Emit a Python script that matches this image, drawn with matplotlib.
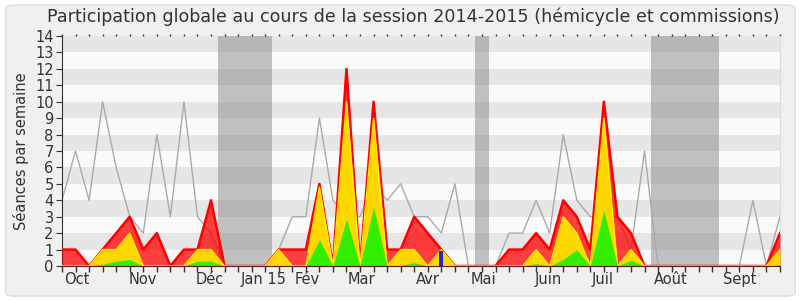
import numpy as np
import matplotlib
matplotlib.use('Agg')
import matplotlib.pyplot as plt
from matplotlib.patches import FancyBboxPatch
import matplotlib.transforms as mtransforms

# weekly values, session 2014-2015 (54 weeks, Oct -> Sept)
weeks = np.arange(54)
presences = [1, 1, 0, 1, 2, 3, 1, 2, 0, 1, 1, 4, 0, 0, 0, 0, 1, 1, 1, 5,
             0, 12, 0, 10, 1, 1, 3, 2, 1, 0, 0, 0, 0, 1, 1, 2, 1, 4, 3, 1,
             10, 3, 2, 0, 0, 0, 0, 0, 0, 0, 0, 0, 0, 2]
participations = [0, 0, 0, 1, 1, 2, 0, 0, 0, 0, 1, 1, 0, 0, 0, 0, 1, 0, 0, 4.8,
                  0, 10, 0, 9, 0, 1, 1, 0, 1, 0, 0, 0, 0, 0, 0, 1, 0, 3, 2, 0,
                  9, 0, 1, 0, 0, 0, 0, 0, 0, 0, 0, 0, 0, 1]
interventions = [0, 0, 0, 0.1, 0.3, 0.4, 0, 0, 0, 0, 0.3, 0.3, 0, 0, 0, 0, 0, 0, 0, 1.6,
                 0, 2.85, 0, 3.6, 0, 0.05, 0.2, 0, 0, 0, 0, 0, 0, 0, 0, 0.15, 0, 0.4, 1.0, 0,
                 3.4, 0, 0.35, 0, 0, 0, 0, 0, 0, 0, 0, 0, 0, 0.1]
mediane = [4, 7, 4, 10, 6, 3, 2, 8, 3, 10, 3, 2, 0, 0, 0, 0, 1, 3, 3, 9,
           4, 3, 3, 5, 4, 5, 3, 3, 2, 5, 0, 0, 0, 2, 2, 4, 2, 8, 4, 3,
           3, 3, 1, 7, 0, 0, 0, 0, 0, 0, 0, 4, 0, 3]
questions_week = [28]
questions_val = [0.9]
vacances = [(11.5, 15.5), (30.5, 31.5), (43.5, 48.5)]
mois_pos = [1.1, 6, 10.9, 14.9, 18.1, 22.1, 27, 31.1, 35.9, 39.9, 44.9, 50]
mois_lab = ['Oct', 'Nov', 'Déc', 'Jan 15', 'Fév', 'Mar', 'Avr', 'Mai',
            'Juin', 'Juil', 'Août', 'Sept']

plt.rcParams['font.family'] = ['DejaVu Sans']

fig = plt.figure(figsize=(8, 3), dpi=100, facecolor='white')
fig.patches.append(FancyBboxPatch((0.007, 0.013), 0.987, 0.97, boxstyle='round,pad=0,rounding_size=0.012',
                                  transform=fig.transFigure, facecolor='#f0f0f0', edgecolor='#dddddd',
                                  lw=1, zorder=-10))
ax = fig.add_axes([0.0775, 0.1133, 0.8975, 0.7667])

# striped background
for k in range(14):
    ax.axhspan(k, k + 1, color='#e6e6e6' if k % 2 else '#fafafa', lw=0, zorder=0)
for a, b in vacances:
    ax.axvspan(a, b, color='#888888', alpha=0.5, lw=0, zorder=1)

ax.plot(weeks, mediane, color='#aaaaaa', lw=1, zorder=2)
ax.fill_between(weeks, presences, color='#ff0000', alpha=0.75, lw=0, zorder=3)
ax.plot(weeks, presences, color='#ff0000', lw=1.8, zorder=3)
ax.fill_between(weeks, participations, color='#ffd700', lw=0, zorder=4)
ax.plot(weeks, participations, color='#ffee00', lw=1, zorder=4)
ax.fill_between(weeks, interventions, color='#33ee00', lw=0, zorder=5)
ax.bar(questions_week, questions_val, width=0.28, color='#2222dd', zorder=6)

ax.set_xlim(0, 53)
ax.set_ylim(0, 14)
ax.set_yticks(range(15))
ax.set_xticks(weeks)
ax.set_xticklabels([])
ax.tick_params(axis='x', which='major', length=4, width=1, color='#333333',
               top=True, bottom=True)
ax.tick_params(axis='y', length=4, pad=2, labelsize=10.5, labelcolor='#333333', color='#333333')
for t in ax.xaxis.get_major_ticks():
    t.tick2line.set_markersize(1.5)
    t.tick2line.set_color('#333333')

# month labels under the axis
trans = mtransforms.blended_transform_factory(ax.transData, ax.transAxes)
for p, lab in zip(mois_pos, mois_lab):
    ax.text(p, -0.025, lab, transform=trans, ha='center', va='top',
            fontsize=10.5, color='#333333')

ax.spines['top'].set_visible(False)
ax.spines['right'].set_color('#dddddd')
ax.spines['left'].set_color('#333333')
ax.spines['bottom'].set_color('#5a1a1a')
ax.spines['bottom'].set_zorder(10)
ax.set_ylabel('Séances par semaine', fontsize=10.5, color='#333333', labelpad=4)
fig.text(0.516, 0.975, 'Participation globale au cours de la session 2014-2015 (hémicycle et commissions)',
         ha='center', va='top', fontsize=12.6, color='#333333')

fig.savefig('out.png', dpi=100, facecolor=fig.get_facecolor())
